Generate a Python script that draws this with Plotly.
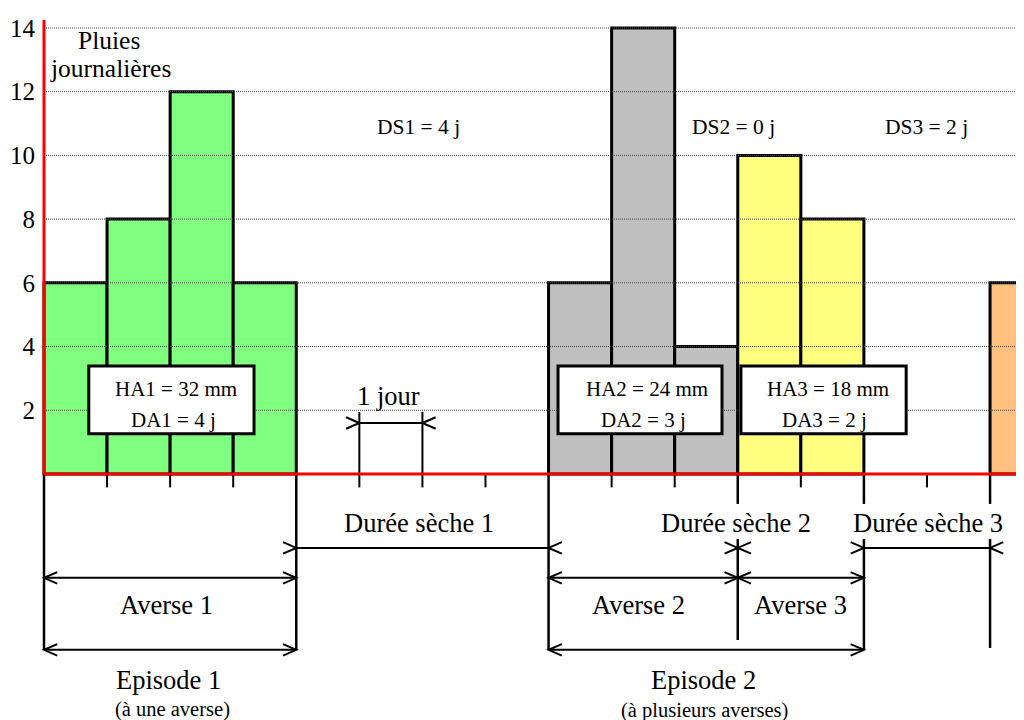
import plotly.graph_objects as go

# daily rainfall (mm) per day index
days_green = [0, 1, 2, 3]
rain_green = [6, 8, 12, 6]
days_gray = [8, 9, 10]
rain_gray = [6, 14, 4]
days_yellow = [11, 12]
rain_yellow = [10, 8]
days_orange = [15]
rain_orange = [6]

y_ticks = [2, 4, 6, 8, 10, 12, 14]
dry_spells = [4, 0, 2]

FONT = "Liberation Serif"
DAY_PX = 63.07
MM_PX = 31.86
# page body has an 8px margin, so the figure starts at (8, 8) in the window
X_MAX = (1024 - 44) / DAY_PX
Y_MIN = -(720 - 474) / MM_PX
Y_MAX = (474 - 8) / MM_PX

fig = go.Figure()
for days, rain, color in [
    (days_green, rain_green, "#80FF80"),
    (days_gray, rain_gray, "#C0C0C0"),
    (days_yellow, rain_yellow, "#FFFF80"),
    (days_orange, rain_orange, "#FFC080"),
]:
    fig.add_trace(go.Bar(
        x=[d + 0.5 for d in days], y=rain, width=1,
        marker=dict(color=color, line=dict(color="black", width=3)),
        hoverinfo="skip", showlegend=False,
    ))

shapes = []


def line(x0, y0, x1, y1, color="black", width=2, dash=None):
    s = dict(type="line", x0=x0, y0=y0, x1=x1, y1=y1, layer="above",
             line=dict(color=color, width=width))
    if dash:
        s["line"]["dash"] = dash
    shapes.append(s)


def chevron(x, y, direction):
    # direction +1 opens to the right ("<"), -1 opens to the left (">")
    a, b = 0.21 * direction, 0.18
    shapes.append(dict(type="path", layer="above",
                       path=f"M {x + a},{y + b} L {x},{y} L {x + a},{y - b}",
                       line=dict(color="black", width=2)))


def span_inside(x0, x1, y):
    line(x0, y, x1, y)
    chevron(x0, y, 1)
    chevron(x1, y, -1)


def span_outside(x0, x1, y):
    if x1 > x0:
        line(x0, y, x1, y)
    chevron(x0, y, -1)
    chevron(x1, y, 1)


# dotted grid
for v in y_ticks:
    line(0, v, X_MAX + 1, v, color="#444", width=1, dash="1px,1px")

# info boxes
for x0, x1 in [(0.71, 3.33), (8.15, 10.75), (11.05, 13.67)]:
    shapes.append(dict(type="rect", x0=x0, x1=x1, y0=1.26, y1=3.39, layer="above",
                       fillcolor="white", line=dict(color="black", width=3)))

# ticks below axis
for d in [1, 2, 3, 5, 6, 7, 9, 10, 12, 14]:
    line(d, 0, d, -0.42)
for d in [0, 4, 8]:
    line(d, 0, d, -5.52, width=2.5)
line(11, 0, 11, -0.94, width=2.5)
line(11, -2.04, 11, -5.21, width=2.5)
line(13, 0, 13, -0.94, width=2.5)
line(13, -2.04, 13, -5.52, width=2.5)
line(15, 0, 15, -0.94, width=2.5)
line(15, -2.04, 15, -5.46, width=2.5)

# 1 jour marker
line(5, 0, 5, 1.95)
line(6, 0, 6, 1.95)
span_outside(5, 6, 1.6)

# dry spells
span_outside(4, 8, -2.32)
span_outside(11, 11, -2.32)
span_outside(13, 15, -2.32)

# showers and episodes
span_inside(0, 4, -3.26)
span_inside(8, 11, -3.26)
span_inside(11, 13, -3.26)
span_inside(0, 4, -5.52)
span_inside(8, 13, -5.52)

# red axes
line(0, 0, 0, 14.25, color="red", width=3)
line(0, 0, X_MAX + 1, 0, color="red", width=3)

ann = []


def text(x, y, s, size=26.5):
    ann.append(dict(x=x, y=y, text=s, showarrow=False, xanchor="center", yanchor="middle",
                    font=dict(family=FONT, size=size, color="black")))


text(1.03, 13.6, "Pluies", 25.5)
text(1.05, 12.72, "journalières", 25.5)

sums = [sum(rain_green), sum(rain_gray), sum(rain_yellow)]
durs = [len(days_green), len(days_gray), len(days_yellow)]
for i, xc in enumerate([2.1, 9.56, 12.43]):
    text(xc, 2.67, f"HA{i + 1} = {sums[i]} mm", 21)
    text(xc - 0.05, 1.69, f"DA{i + 1} = {durs[i]} j", 21)

for i, xc in enumerate([5.93, 10.94, 14.0]):
    text(xc, 10.88, f"DS{i + 1} = {dry_spells[i]} j", 21.5)

text(5.47, 2.45, "1 jour")
text(5.95, -1.54, "Durée sèche 1")
text(10.97, -1.54, "Durée sèche 2")
text(14.02, -1.54, "Durée sèche 3")
text(1.95, -4.11, "Averse 1")
text(9.43, -4.11, "Averse 2")
text(12.0, -4.11, "Averse 3")
text(1.98, -6.47, "Episode 1")
text(10.46, -6.47, "Episode 2")
text(2.03, -7.4, "(à une averse)", 20.5)
text(10.48, -7.42, "(à plusieurs averses)", 20.5)

fig.update_layout(
    width=1016, height=712,
    margin=dict(l=28, r=0, t=0, b=0),
    paper_bgcolor="white", plot_bgcolor="white",
    shapes=shapes, annotations=ann,
    xaxis=dict(range=[-8 / DAY_PX, X_MAX], showgrid=False, zeroline=False,
               showticklabels=False, showline=False),
    yaxis=dict(range=[Y_MIN, Y_MAX], tickvals=y_ticks, showgrid=False, zeroline=False,
               showline=False, ticks="",
               tickfont=dict(family=FONT, size=25, color="black")),
)
fig.write_html("out.html")
